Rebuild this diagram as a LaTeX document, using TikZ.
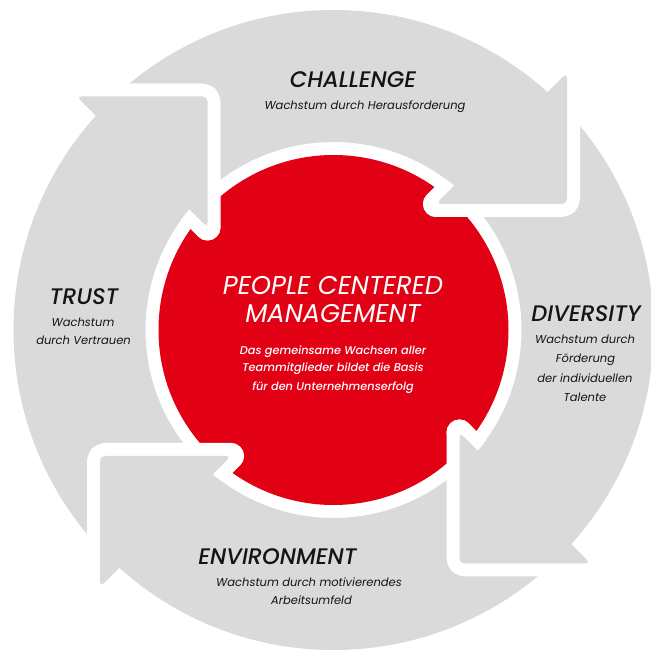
\documentclass[tikz,border=0pt]{standalone}
\usepackage{fontspec}
\setmainfont{Poppins}
\newfontfamily\popmed{Poppins Medium}
\definecolor{ringgray}{RGB}{218,218,218}
\definecolor{pcmred}{RGB}{226,0,21}
\definecolor{ink}{RGB}{20,20,20}
\tikzset{
  halo/.style={white, line width=26pt, line cap=round, line join=round, rounded corners=5pt},
  headfill/.style={fill=ringgray, rounded corners=5pt},
  title/.style={anchor=base, inner sep=0pt, text=ink, font=\popmed\itshape\fontsize{22.5}{26}\selectfont},
  sub/.style={anchor=base, inner sep=0pt, text=ink, font=\itshape\fontsize{11.5}{14}\selectfont},
  ctitle/.style={anchor=base, inner sep=0pt, text=white, font=\itshape\fontsize{25.7}{28}\selectfont},
  csub/.style={anchor=base, inner sep=0pt, text=white, font=\popmed\itshape\fontsize{11.3}{14}\selectfont},
}
\begin{document}
\begin{tikzpicture}[x=1pt,y=1pt]
\useasboundingbox (0,0) rectangle (651,651);
\begin{scope}[shift={(333.5,321)}]
  \fill[ringgray, even odd rule] (0,0) circle (320) (0,0) circle (188);
  \fill[pcmred] (0,0) circle (175);
  \foreach \a in {0,-90,-180,-270} {
    \begin{scope}[rotate=\a]
      \draw[halo] (233.5,257) -- (233.5,126) -- (102.5,126);
      \begin{scope}
        \clip (0,0) circle (188);
        \draw[halo] (102.5,126) -- (131,154.5);
      \end{scope}
      \fill[headfill] (233.5,257) -- (233.5,126) -- (102.5,126) -- cycle;
    \end{scope}
  }
\end{scope}
% CHALLENGE
\node[title] (ch) at (353,563) {CHALLENGE};
\node[sub] (chs) at (365,541) {Wachstum durch Herausforderung};
% TRUST
\node[title] (tr) at (84,346) {TRUST};
\node[sub] (trs1) at (83,324) {Wachstum};
\node[sub] (trs2) at (83.5,306) {durch Vertrauen};
% DIVERSITY
\node[title] (dv) at (586,329) {DIVERSITY};
\node[sub] (dvs1) at (585,307) {Wachstum durch};
\node[sub] (dvs2) at (585.5,288) {Förderung};
\node[sub] (dvs3) at (585,268) {der individuellen};
\node[sub] (dvs4) at (585,249) {Talente};
% ENVIRONMENT
\node[title] (en) at (277.5,86) {ENVIRONMENT};
\node[sub] (ens1) at (309,64) {Wachstum durch motivierendes};
\node[sub] (ens2) at (311.5,46) {Arbeitsumfeld};
% center
\node[ctitle] (c1) at (333,356) {PEOPLE CENTERED};
\node[ctitle] (c2) at (333,328) {MANAGEMENT};
\node[csub] (c3) at (333,296) {Das gemeinsame Wachsen aller};
\node[csub] (c4) at (333,279) {Teammitglieder bildet die Basis};
\node[csub] (c5) at (333,260) {für den Unternehmenserfolg};
\end{tikzpicture}
\end{document}
